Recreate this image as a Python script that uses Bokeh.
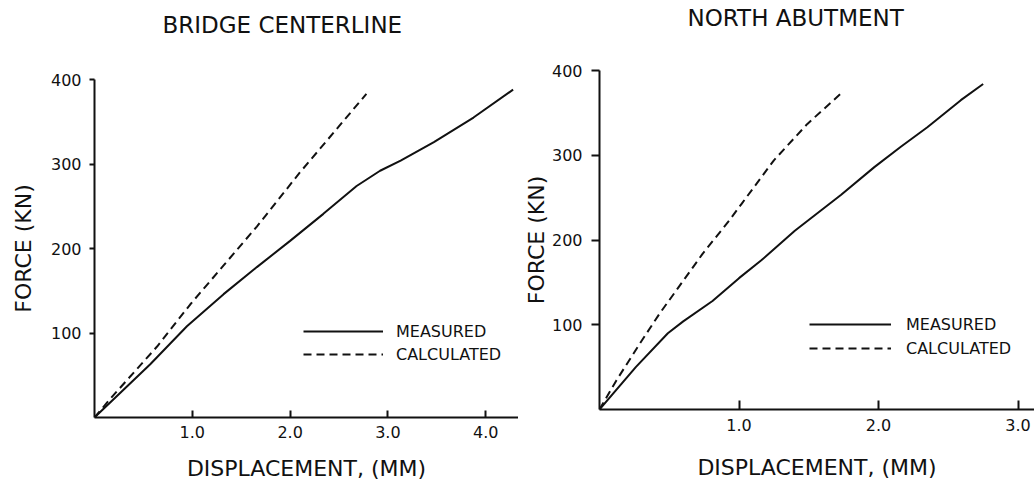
from bokeh.plotting import figure
from bokeh.models import FixedTicker, NumeralTickFormatter, Legend, LegendItem, Range1d, Title
from bokeh.layouts import row, column
from bokeh.embed import file_html
from bokeh.resources import INLINE

FONT = "DejaVu Sans"

# ---- data ----
left_title = "BRIDGE CENTERLINE"
right_title = "NORTH ABUTMENT"
x_label = "DISPLACEMENT, (MM)"
y_label = "FORCE (KN)"
legend_labels = ["MEASURED", "CALCULATED"]

left_x_ticks = [1, 2, 3, 4]
right_x_ticks = [1, 2, 3]
y_ticks = [100, 200, 300, 400]

left_meas_x = [0, 0.57, 0.945, 1.32, 1.66, 2.0, 2.34, 2.68, 2.92, 3.13, 3.47, 3.875, 4.28]
left_meas_y = [0, 63, 108, 146, 178, 209, 241, 274, 292, 304, 326, 355, 388]
left_calc_x = [0, 0.16, 0.64, 0.98, 1.32, 1.66, 2.1, 2.78]
left_calc_y = [0, 22, 84, 134, 180, 226, 290, 383]

right_meas_x = [0, 0.26, 0.49, 0.6, 0.81, 1.0, 1.16, 1.4, 1.73, 1.97, 2.16, 2.35, 2.59, 2.75]
right_meas_y = [0, 50, 90, 104, 128, 155, 176, 211, 253, 286, 310, 333, 365, 384]
right_calc_x = [0, 0.12, 0.29, 0.43, 0.57, 0.74, 0.93, 1.02, 1.25, 1.49, 1.745]
right_calc_y = [0, 34, 78, 113, 145, 184, 223, 243, 294, 337, 375]

INK = "#111111"


def panel(title, mx, my, cx, cy, xticks, cfg):
    p = figure(width=cfg["w"], height=486, title=None,
               x_range=Range1d(0, cfg["x_end"]), y_range=Range1d(0, 400),
               output_backend="svg", toolbar_location=None,
               min_border_left=cfg["mbl"], min_border_right=0,
               min_border_top=cfg["mbt"], min_border_bottom=cfg["mbb"])
    p.outline_line_color = None
    p.xgrid.visible = False
    p.ygrid.visible = False
    p.background_fill_color = "white"
    p.border_fill_color = "white"

    # spacer between frame and title (panels stack outward in order added)
    p.add_layout(Title(text=" ", text_font_size="1px", standoff=cfg["gap"]), "above")
    p.add_layout(Title(text=title, align="left", vertical_align="bottom",
                       offset=cfg["t_off"], standoff=0,
                       text_font=FONT, text_font_size="23px",
                       text_font_style="normal", text_color=INK), "above")

    xa = p.xaxis[0]
    xa.ticker = FixedTicker(ticks=xticks)
    xa.formatter = NumeralTickFormatter(format="0.0")
    xa.major_tick_in = cfg["xt_in"]
    xa.major_tick_out = 0
    xa.minor_tick_line_color = None
    xa.axis_line_width = 2
    xa.major_tick_line_width = 2
    xa.axis_line_color = INK
    xa.major_tick_line_color = INK
    xa.major_label_text_font = FONT
    xa.major_label_text_font_size = "16px"
    xa.major_label_text_color = INK
    xa.major_label_standoff = cfg["x_ls"]
    xa.axis_label = x_label
    xa.axis_label_text_font = FONT
    xa.axis_label_text_font_size = "22px"
    xa.axis_label_text_font_style = "normal"
    xa.axis_label_text_color = INK
    xa.axis_label_standoff = cfg["x_as"]

    ya = p.yaxis[0]
    ya.ticker = FixedTicker(ticks=y_ticks)
    ya.major_tick_in = 0
    ya.major_tick_out = cfg["yt_out"]
    ya.minor_tick_line_color = None
    ya.axis_line_width = 2
    ya.major_tick_line_width = 2
    ya.axis_line_color = INK
    ya.major_tick_line_color = INK
    ya.major_label_text_font = FONT
    ya.major_label_text_font_size = "16px"
    ya.major_label_text_color = INK
    ya.major_label_standoff = cfg["y_ls"]
    ya.axis_label = y_label
    ya.axis_label_text_font = FONT
    ya.axis_label_text_font_size = "22px"
    ya.axis_label_text_font_style = "normal"
    ya.axis_label_text_color = INK
    ya.axis_label_standoff = cfg["y_as"]

    r1 = p.line(mx, my, line_color=INK, line_width=2)
    r2 = p.line(cx, cy, line_color=INK, line_width=2, line_dash="8 5")

    leg = Legend(items=[LegendItem(label=legend_labels[0], renderers=[r1]),
                        LegendItem(label=legend_labels[1], renderers=[r2])],
                 location=cfg["leg_loc"], glyph_width=cfg["gw"], glyph_height=20,
                 label_height=20, label_standoff=cfg["lstand"], spacing=cfg["lsp"],
                 padding=0, margin=0, border_line_color=None,
                 background_fill_alpha=0,
                 label_text_font=FONT, label_text_font_size="16px",
                 label_text_color=INK)
    p.add_layout(leg)
    return p


left = panel(left_title, left_meas_x, left_meas_y, left_calc_x, left_calc_y, left_x_ticks,
             dict(w=518, x_end=4.335, mbl=94, mbt=79, mbb=69, t_off=68, gap=39,
                  xt_in=7, x_ls=8, x_as=15, yt_out=5, y_ls=8, y_as=12,
                  leg_loc=(209, 53), gw=80, lstand=13, lsp=3))
right = panel(right_title, right_meas_x, right_meas_y, right_calc_x, right_calc_y, right_x_ticks,
              dict(w=516, x_end=3.118, mbl=81, mbt=70, mbb=77, t_off=88, gap=37,
                   xt_in=9, x_ls=9, x_as=21, yt_out=8, y_ls=9, y_as=0,
                   leg_loc=(210, 51), gw=82, lstand=15, lsp=4))

layout = row(column(left), column(right))
open("out.html", "w").write(file_html(layout, INLINE))
